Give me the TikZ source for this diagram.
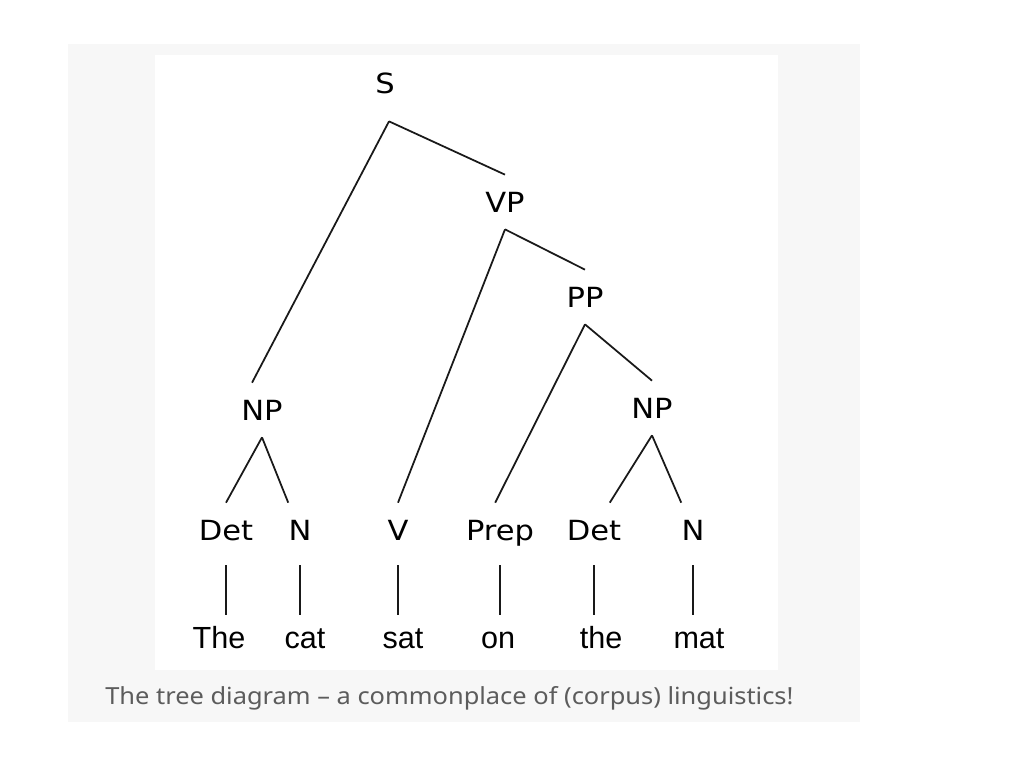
\documentclass[tikz,border=0pt]{standalone}
\usepackage{fontspec}
\setmainfont{Liberation Sans}
\newfontfamily\tagfont[FakeStretch=1.1]{DejaVu Sans}
\newfontfamily\captionfont[FakeStretch=1.08]{Noto Sans}
\usepackage{tikz}
\usetikzlibrary{positioning}
\usepackage{xcolor}
\definecolor{panelgray}{HTML}{F7F7F7}
\definecolor{captiongray}{HTML}{5C5C5C}

\begin{document}
\begin{tikzpicture}[x=0.02cm,y=-0.02cm,every node/.style={inner sep=0pt,minimum
  height=1.08cm}, tag/.style={font=\tagfont\fontsize{15.8}{18}\selectfont,text
  height=11.4pt,text depth=0pt}, word/.style={font=\fontsize{17.4}{20}\selectfont,text
  height=12.4pt,text depth=0pt,minimum height=0.92cm}, branch/.style={draw=black!90,line
  width=1pt}, leaf/.style={branch,shorten <=0.16cm}]

  % page, grey panel and white picture area
  \useasboundingbox (0,0) rectangle (1024,768);
  \fill[white] (0,0) rectangle (1024,768);
  \fill[panelgray] (68,44) rectangle (860,722);
  \fill[white] (155,55) rectangle (778,670);

  \begin{scope}

    % phrase nodes
    \node[tag,minimum height=1.52cm] (s) at (385,83) {S};
    \node[tag] (vp) at (505,202) {VP};
    \node[tag] (pp) at (585,297) {PP};
    \node[tag] (np1) at (262,410) {NP};
    \node[tag] (np2) at (652,408) {NP};

    % word classes
    \def \y {530}
    \node[tag] (det1) at (226,\y) {Det};
    \node[tag] (n1) at (300,\y) {N};
    \node[tag] (v) at (398,\y) {V};
    \node[tag] (prep) at (500,\y) {Prep};
    \node[tag] (det2) at (594,\y) {Det};
    \node[tag] (n2) at (693,\y) {N};

    % words
    \def \y {638}
    \node[word] (the1) at (219,\y) {The};
    \node[word] (cat) at (305,\y) {cat};
    \node[word] (sat) at (403,\y) {sat};
    \node[word] (on) at (498,\y) {on};
    \node[word] (the2) at (601,\y) {the};
    \node[word] (mat) at (699,\y) {mat};

    % branches
    \draw[branch] (s.south) ++(4,0) coordinate (s-top) -- (np1.110);
    \draw[branch] (s-top) -- (vp.north);
    \draw[branch] (vp.south) -- (v.north);
    \draw[branch] (vp.south) -- (pp.north);
    \draw[branch] (pp.south) -- (prep.100);
    \draw[branch] (pp.south) -- (np2.north);
    \draw[branch] (np1.south) -- (det1.north);
    \draw[branch] (np1.south) -- (n1.north west);
    \draw[branch] (np2.south) -- (det2.60);
    \draw[branch] (np2.south) -- (n2.north west);

    \draw[leaf] (det1.south) -- (det1.south |- the1.north);
    \draw[leaf] (n1.south) -- (n1.south |- cat.north);
    \draw[leaf] (v.south) -- (v.south |- sat.north);
    \draw[leaf] (prep.south) -- (prep.south |- on.north);
    \draw[leaf] (det2.south) -- (det2.south |- the2.north);
    \draw[leaf] (n2.south) -- (n2.south |- mat.north);

  \end{scope}

  \node[anchor=base west,minimum height=0pt,text=captiongray,
    font=\captionfont\fontsize{13.4}{16}\selectfont] (caption) at (105,704)
    {The tree diagram – a commonplace of (corpus) linguistics!};

\end{tikzpicture}
\end{document}
